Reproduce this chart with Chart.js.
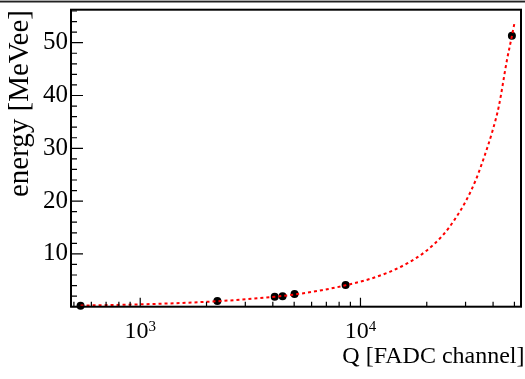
<!DOCTYPE html>
<html>
<head>
<meta charset="utf-8">
<script src="https://cdn.jsdelivr.net/npm/chart.js@4.4.0/dist/chart.umd.min.js"></script>
<style>
  html, body { margin: 0; padding: 0; background: #fff; }
  canvas { display: block; }
</style>
</head>
<body>
<canvas id="myChart" width="525" height="379"></canvas>
<script>
'use strict';

// measured points
const pointQ = [536, 2240, 4080, 4430, 5020, 8560, 48700];
const pointE = [0.2, 1.1, 1.9, 2.0, 2.4, 4.1, 51.3];

// fit curve
const fitQ = [536, 806, 1356, 2240, 3008, 4080, 5021, 6669, 8557, 10830, 13580, 16130,
  19650, 23610, 26670, 30090, 33380, 36410, 39700, 42500, 46240, 48720, 50060];
const fitE = [0.22, 0.35, 0.62, 1.04, 1.40, 1.88, 2.32, 3.12, 4.05, 5.15, 6.6, 8.1,
  10.4, 13.5, 16.4, 20.0, 24.0, 28.3, 33.2, 38.0, 46.7, 51.3, 53.8];

const xDecades = [1000, 10000];
const xDecadeExps = ['3', '4'];

const serif = '"Liberation Serif", "Times New Roman", serif';

function toXY(xs, ys) {
  return xs.map(function(x, i) {
    return {x: x, y: ys[i]};
  });
}

const rootFrame = {
  id: 'rootFrame',
  beforeDraw(chart) {
    const ctx = chart.ctx;
    ctx.save();
    ctx.fillStyle = '#fff';
    ctx.fillRect(0, 0, chart.width, chart.height);
    ctx.fillStyle = '#aaa';
    ctx.fillRect(0, 0, chart.width, 1);
    ctx.fillStyle = '#222';
    ctx.fillRect(0, 1, chart.width, 1.5);
    ctx.restore();
  },
  afterDraw(chart) {
    const ctx = chart.ctx;
    const area = chart.chartArea;
    const xs = chart.scales.x;
    const ys = chart.scales.y;
    ctx.save();
    ctx.strokeStyle = '#000';
    ctx.lineWidth = 1.2;
    ctx.beginPath();
    for (let v = 0; v <= ys.max; v += 2) {
      const py = ys.getPixelForValue(v);
      const len = v % 10 === 0 ? 12 : 6;
      ctx.moveTo(area.left, py);
      ctx.lineTo(area.left + len, py);
    }
    for (let dec = 100; dec < xs.max; dec *= 10) {
      for (let m = 1; m < 10; m++) {
        const v = dec * m;
        if (v < xs.min || v > xs.max) continue;
        const px = xs.getPixelForValue(v);
        const len = m === 1 ? 9 : 5;
        ctx.moveTo(px, area.bottom);
        ctx.lineTo(px, area.bottom - len);
      }
    }
    ctx.stroke();

    ctx.lineWidth = 2;
    ctx.strokeRect(area.left, area.top, area.right - area.left, area.bottom - area.top);

    // x tick labels as 10^n
    ctx.fillStyle = '#000';
    ctx.textAlign = 'left';
    ctx.textBaseline = 'alphabetic';
    xDecades.forEach(function(v, i) {
      ctx.font = '24px ' + serif;
      const wBase = ctx.measureText('10').width;
      ctx.font = '15px ' + serif;
      const wExp = ctx.measureText(xDecadeExps[i]).width;
      const left = xs.getPixelForValue(v) - (wBase + wExp) / 2;
      ctx.font = '24px ' + serif;
      ctx.fillText('10', left, 338);
      ctx.font = '15px ' + serif;
      ctx.fillText(xDecadeExps[i], left + wBase, 331);
    });

    ctx.font = '24px ' + serif;
    ctx.textAlign = 'right';
    ctx.fillText('Q [FADC channel]', 524.5, 363);

    ctx.translate(28, 10);
    ctx.rotate(-Math.PI / 2);
    ctx.font = '29px ' + serif;
    ctx.fillText('energy [MeVee]', 0, 0);
    ctx.restore();
  }
};

function noPadding(scale) {
  scale.paddingTop = 0;
  scale.paddingBottom = 0;
  scale.paddingLeft = 0;
  scale.paddingRight = 0;
}

const ctx = document.getElementById('myChart').getContext('2d');
new Chart(ctx, {
  type: 'scatter',
  data: {
    datasets: [{
      label: 'fit',
      data: toXY(fitQ, fitE),
      showLine: true,
      borderColor: '#ff0000',
      borderWidth: 2,
      borderDash: [3, 3],
      pointRadius: 0,
      cubicInterpolationMode: 'monotone',
      order: 0,
      clip: false,
    },
    {
      label: 'data',
      data: toXY(pointQ, pointE),
      showLine: false,
      pointRadius: 4,
      pointBackgroundColor: '#000',
      pointBorderWidth: 0,
      order: 1,
      clip: false,
    }]
  },
  options: {
    responsive: false,
    animation: false,
    devicePixelRatio: 1,
    layout: {padding: {left: 0, top: 9.7, right: 1.2, bottom: 0}},
    plugins: {
      legend: {display: false},
      tooltip: {enabled: false},
    },
    scales: {
      x: {
        type: 'logarithmic',
        min: 485,
        max: 53560,
        ticks: {display: false},
        grid: {display: false, drawTicks: false},
        border: {display: false},
        afterFit: function(scale) {
          scale.height = 72.3;
          noPadding(scale);
        },
      },
      y: {
        type: 'linear',
        min: 0,
        max: 56.25,
        ticks: {
          stepSize: 10,
          includeBounds: false,
          padding: 3,
          color: '#000',
          font: {family: serif, size: 25},
          callback: function(v) { return v === 0 ? '' : v; },
        },
        grid: {display: false, drawTicks: false},
        border: {display: false},
        afterFit: function(scale) {
          scale.width = 71;
          noPadding(scale);
        },
      }
    }
  },
  plugins: [rootFrame]
});
</script>
</body>
</html>
